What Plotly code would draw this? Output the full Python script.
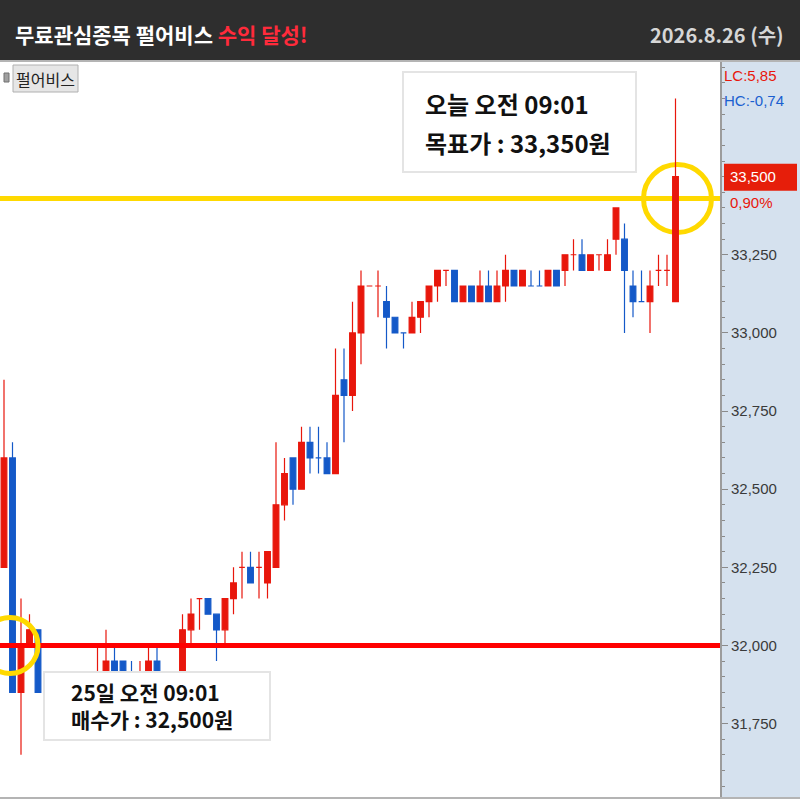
import plotly.graph_objects as go

# 펄어비스 1분봉 (화면에서 읽은 값)
opens = [32250, 32600, 31850, 32000, 32050, 31850, 31800, 31850, 31800, 31850,
         31900, 31850, 31850, 31950, 31950, 31900, 31850, 31900, 31950, 31850,
         31850, 31900, 32050, 32150, 32150, 32100, 32050, 32150, 32250, 32250,
         32250, 32200, 32250, 32450, 32600, 32500, 32650, 32600, 32600, 32550,
         32850, 32800, 33000, 33150, 33150, 33100, 33050, 33000, 33000, 33050,
         33100, 33150, 33200, 33200, 33100, 33150, 33100, 33150, 33100, 33150,
         33200, 33150, 33150, 33150, 33150, 33200, 33200, 33250, 33250, 33200,
         33250, 33200, 33300, 33300, 33150, 33100, 33100, 33200, 33200, 33100]
highs = [32850, 32650, 32150, 32100, 32050, 31900, 31900, 31900, 31900, 31900,
         31900, 32000, 32050, 32000, 31950, 31950, 31950, 32000, 32000, 31900,
         31900, 32100, 32150, 32150, 32150, 32100, 32150, 32250, 32300, 32300,
         32300, 32300, 32650, 32600, 32600, 32700, 32700, 32700, 32650, 32950,
         32950, 33100, 33200, 33150, 33200, 33150, 33050, 33000, 33100, 33100,
         33150, 33200, 33200, 33200, 33150, 33150, 33200, 33200, 33200, 33250,
         33200, 33200, 33200, 33200, 33200, 33200, 33250, 33300, 33300, 33250,
         33250, 33300, 33400, 33350, 33200, 33200, 33200, 33250, 33250, 33750]
lows = [32250, 31850, 31650, 32000, 31850, 31800, 31800, 31800, 31800, 31800,
        31850, 31800, 31850, 31850, 31850, 31850, 31850, 31900, 31850, 31800,
        31850, 31900, 32000, 32050, 32100, 31950, 32000, 32100, 32150, 32200,
        32150, 32150, 32250, 32400, 32450, 32500, 32550, 32550, 32550, 32550,
        32650, 32750, 32900, 33150, 33050, 32950, 33000, 32950, 33000, 33000,
        33050, 33100, 33150, 33100, 33100, 33100, 33100, 33100, 33100, 33100,
        33150, 33150, 33150, 33150, 33150, 33150, 33150, 33200, 33200, 33200,
        33200, 33200, 33250, 33000, 33050, 33100, 33000, 33150, 33150, 33100]
closes = [32600, 31850, 32000, 32050, 31850, 31800, 31850, 31800, 31850, 31900,
          31850, 31900, 31950, 31900, 31900, 31850, 31900, 31950, 31900, 31900,
          31900, 32050, 32100, 32150, 32100, 32050, 32150, 32200, 32250, 32200,
          32250, 32300, 32450, 32550, 32500, 32650, 32600, 32600, 32550, 32800,
          32800, 33000, 33150, 33150, 33150, 33050, 33000, 33000, 33050, 33100,
          33150, 33200, 33200, 33100, 33150, 33100, 33150, 33100, 33150, 33200,
          33150, 33200, 33150, 33150, 33200, 33150, 33250, 33250, 33200, 33250,
          33250, 33250, 33400, 33200, 33100, 33100, 33150, 33200, 33200, 33500]

tick_vals = [31750, 32000, 32250, 32500, 32750, 33000, 33250]
tick_text = ['31,750', '32,000', '32,250', '32,500', '32,750', '33,000', '33,250']

buy_price = 32000      # 빨간 선
target_line = 33430    # 노란 선
last_price = 33500

RED = '#e8170c'
BLUE = '#1459c8'
YELLOW = '#ffd900'
KR = 'Noto Sans CJK KR'
NARROW = 'Liberation Sans Narrow, Liberation Sans, sans-serif'

W = H = 800


def px(x):
    return x / W


def py(y):
    return 1 - y / H


x = list(range(len(opens)))

fig = go.Figure(go.Candlestick(
    x=x, open=opens, high=highs, low=lows, close=closes,
    increasing=dict(line=dict(color=RED, width=1.2), fillcolor=RED),
    decreasing=dict(line=dict(color=BLUE, width=1.2), fillcolor=BLUE),
    whiskerwidth=0, showlegend=False, hoverinfo='skip'))

shapes = [
    # header
    dict(type='rect', xref='paper', yref='paper', x0=0, x1=1, y0=py(60), y1=1,
         fillcolor='#2e2e2e', line_width=0, layer='below'),
    dict(type='rect', xref='paper', yref='paper', x0=0, x1=1, y0=py(62), y1=py(60),
         fillcolor='#b4b4b4', line_width=0, layer='above'),
    dict(type='rect', xref='paper', yref='paper', x0=0, x1=1, y0=py(799), y1=py(797),
         fillcolor='#b4b4b4', line_width=0, layer='above'),
    # right price panel
    dict(type='rect', xref='paper', yref='paper', x0=px(720), x1=1, y0=py(797), y1=py(62),
         fillcolor='#d5e1ee', line_width=0, layer='below'),
    # lines
    dict(type='line', xref='paper', yref='y', x0=0, x1=px(720), y0=target_line, y1=target_line,
         line=dict(color=YELLOW, width=5), layer='below'),
    dict(type='line', xref='paper', yref='y', x0=0, x1=px(720), y0=buy_price, y1=buy_price,
         line=dict(color='#ff0000', width=5), layer='above'),
    # circles
    dict(type='circle', xref='x', yref='y', xsizemode='pixel', ysizemode='pixel',
         xanchor=0, yanchor=buy_price, x0=-22, x1=34, y0=-28, y1=28,
         line=dict(color=YELLOW, width=5), layer='above'),
    dict(type='circle', xref='x', yref='y', xsizemode='pixel', ysizemode='pixel',
         xanchor=len(x) - 1, yanchor=target_line, x0=-32, x1=36, y0=-34, y1=34,
         line=dict(color=YELLOW, width=5), layer='below'),
    # note boxes
    dict(type='rect', xref='paper', yref='paper', x0=px(403), x1=px(636), y0=py(172), y1=py(72),
         fillcolor='white', line=dict(color='#e4e4e4', width=2), layer='above'),
    dict(type='rect', xref='paper', yref='paper', x0=px(44), x1=px(270), y0=py(740), y1=py(672),
         fillcolor='white', line=dict(color='#e4e4e4', width=2), layer='above'),
    # legend tag
    dict(type='rect', xref='paper', yref='paper', x0=px(13), x1=px(78), y0=py(92), y1=py(65),
         fillcolor='#e6e6e6', line=dict(color='#b0b0b0', width=1), layer='above'),
    dict(type='rect', xref='paper', yref='paper', x0=px(4), x1=px(9), y0=py(82), y1=py(73),
         fillcolor='#a0a0a0', line=dict(color='#707070', width=1), layer='above'),
    # last price tag
    dict(type='rect', xref='paper', yref='y', ysizemode='pixel', yanchor=last_price,
         x0=px(724), x1=px(797), y0=-14, y1=13, fillcolor='#e61e0a', line_width=0, layer='above'),
]

annotations = [
    dict(text="<b>무료관심종목 펄어비스 <span style='color:#ff2b3b'>수익 달성!</span></b>",
         x=px(13), y=py(34), xanchor='left', yanchor='middle',
         font=dict(family=KR, size=21, color='white')),
    dict(text='<b>2026.8.26 (수)</b>', x=px(786), y=py(35), xanchor='right', yanchor='middle',
         font=dict(family=KR, size=20, color='#d6d6d6')),
    dict(text='<b>오늘 오전 09:01</b>', x=px(423), y=py(103), xanchor='left', yanchor='middle',
         font=dict(family=KR, size=24, color='#111')),
    dict(text='<b>목표가 : 33,350원</b>', x=px(423), y=py(143), xanchor='left', yanchor='middle',
         font=dict(family=KR, size=24, color='#111')),
    dict(text='<b>25일 오전 09:01</b><br><b>매수가 : 32,500원</b>', x=px(69), y=py(705),
         xanchor='left', yanchor='middle', align='left',
         font=dict(family=KR, size=21, color='#111')),
    dict(text='펄어비스', x=px(45.5), y=py(79), xanchor='center', yanchor='middle',
         font=dict(family=KR, size=16, color='#222')),
    dict(text='LC:5,85', x=px(722), y=py(76), xanchor='left', yanchor='middle',
         font=dict(family=NARROW, size=15, color=RED)),
    dict(text='HC:-0,74', x=px(722), y=py(101), xanchor='left', yanchor='middle',
         font=dict(family=NARROW, size=15, color='#1a5fd0')),
    dict(text='33,500', xref='paper', yref='y', x=px(728), y=last_price, xanchor='left',
         yanchor='middle', font=dict(family=NARROW, size=15, color='white')),
    dict(text='0,90%', x=px(728), y=py(203), xanchor='left', yanchor='middle',
         font=dict(family=NARROW, size=15, color=RED)),
]
for a in annotations:
    a.setdefault('xref', 'paper')
    a.setdefault('yref', 'paper')
    a['showarrow'] = False

fig.update_layout(
    width=W, height=H, margin=dict(l=0, r=0, t=0, b=0),
    paper_bgcolor='white', plot_bgcolor='white',
    boxgap=0.33, boxgroupgap=0,
    shapes=shapes, annotations=annotations,
    xaxis=dict(domain=[0, px(720)], range=[-4 / 8.5, 716 / 8.5], visible=False,
               rangeslider=dict(visible=False)),
    yaxis=dict(domain=[py(797), py(61)], range=[31515, 33870], side='right',
               tickvals=tick_vals, ticktext=tick_text, ticks='outside', ticklen=6,
               tickcolor='#8a8a8a', showgrid=False, zeroline=False,
               showline=True, linecolor='#9c9c9c', linewidth=2,
               tickfont=dict(family=NARROW, size=15, color='#3a3a3a'),
               minor=dict(dtick=50, tick0=31500, ticks='outside', ticklen=3, tickcolor='#8a8a8a')),
)

# 페이지 기본 여백 제거 (800x800 창에 꽉 차게)
fig.write_html("out.html", config={'displayModeBar': False},
               post_script="document.body.style.margin='0';document.body.style.overflow='hidden';")
